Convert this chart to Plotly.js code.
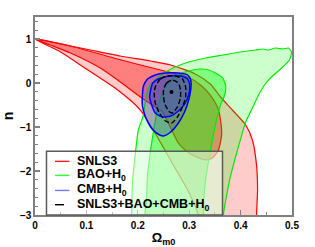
<!DOCTYPE html>
<html>
<head>
<meta charset="utf-8">
<script src="https://cdn.plot.ly/plotly-3.0.1.min.js"></script>
<style>html,body{margin:0;padding:0;background:#fff;}#chart{width:315px;height:247px;}</style>
</head>
<body>
<div id="chart"></div>
<script>
// ---- contour data (Omega_m0, n) ----
var snlsOuterX = [0.0,0.050,0.108,0.166,0.225,0.264,0.312,0.341,0.361,0.384,0.410,0.423,0.431,0.433,0.431,0.431,0.324,0.318,0.297,0.269,0.238,0.205,0.161,0.094,0.050,0.0];
var snlsOuterY = [1.0,0.886,0.750,0.614,0.500,0.409,0.205,-0.023,-0.318,-0.614,-0.955,-1.295,-1.864,-2.432,-3.0,-3.3,-3.3,-3.0,-2.432,-1.864,-1.227,-0.614,-0.159,0.364,0.705,1.0];
var snlsInnerX = [0.0,0.069,0.153,0.244,0.297,0.322,0.341,0.355,0.361,0.363,0.357,0.345,0.332,0.314,0.297,0.279,0.264,0.248,0.225,0.205,0.166,0.127,0.069,0.030,0.0];
var snlsInnerY = [1.0,0.841,0.568,0.295,0.136,-0.045,-0.273,-0.545,-0.841,-1.182,-1.523,-1.705,-1.750,-1.682,-1.568,-1.364,-1.023,-0.659,-0.477,-0.318,0.023,0.341,0.682,0.864,1.0];
var baoOuterX = [0.188,0.188,0.190,0.196,0.201,0.211,0.215,0.221,0.234,0.254,0.273,0.299,0.332,0.365,0.400,0.429,0.443,0.454,0.468,0.482,0.493,0.499,0.495,0.482,0.462,0.448,0.435,0.423,0.410,0.394,0.380,0.373,0.367,0.365,0.188];
var baoOuterY = [-3.3,-3.0,-2.205,-1.523,-1.068,-0.727,-0.386,-0.114,0.068,0.250,0.364,0.477,0.568,0.636,0.705,0.750,0.773,0.750,0.795,0.773,0.795,0.705,0.523,0.364,0.159,-0.023,-0.273,-0.568,-0.886,-1.523,-2.136,-2.545,-2.955,-3.3,-3.3];
var baoInnerX = [0.215,0.217,0.219,0.225,0.231,0.240,0.254,0.273,0.299,0.322,0.338,0.351,0.365,0.371,0.369,0.361,0.353,0.345,0.338,0.332,0.328,0.324,0.215];
var baoInnerY = [-3.3,-2.659,-2.091,-1.523,-1.068,-0.500,-0.091,0.159,0.273,0.318,0.295,0.227,0.114,-0.068,-0.273,-0.500,-0.841,-1.295,-1.750,-2.205,-2.659,-3.3,-3.3];
var cmbOuterX = [0.209,0.211,0.219,0.234,0.254,0.279,0.297,0.303,0.303,0.299,0.291,0.279,0.264,0.250,0.236,0.225,0.215,0.209,0.209];
var cmbOuterY = [-0.273,-0.068,0.091,0.182,0.227,0.227,0.182,0.068,-0.159,-0.386,-0.659,-0.909,-1.114,-1.205,-1.136,-1.000,-0.773,-0.523,-0.273];
var cmbInnerX = [0.225,0.229,0.240,0.260,0.283,0.297,0.301,0.299,0.291,0.279,0.264,0.248,0.234,0.227,0.223,0.225];
var cmbInnerY = [-0.159,0.0,0.091,0.159,0.159,0.091,-0.045,-0.273,-0.477,-0.636,-0.750,-0.773,-0.682,-0.500,-0.318,-0.159];
var jointOuterX = [0.234,0.244,0.258,0.273,0.287,0.293,0.293,0.287,0.277,0.266,0.254,0.242,0.234,0.232,0.234];
var jointOuterY = [-0.091,0.091,0.159,0.159,0.091,-0.091,-0.318,-0.545,-0.773,-0.909,-0.864,-0.682,-0.455,-0.273,-0.091];
var jointInnerX = [0.250,0.256,0.267,0.279,0.283,0.283,0.277,0.267,0.260,0.252,0.250,0.250];
var jointInnerY = [-0.159,0.0,0.068,0.0,-0.159,-0.341,-0.545,-0.682,-0.636,-0.455,-0.295,-0.159];
var bestFitX = [0.2656];
var bestFitY = [-0.205];

var legendLabels = ['SNLS3','BAO+H<sub>0</sub>','CMB+H<sub>0</sub>','SNLS3+BAO+CMB+H<sub>0</sub>'];
var xTickVals = [0,0.1,0.2,0.3,0.4,0.5];
var xTickText = ['0','0.1','0.2','0.3','0.4','0.5'];
var yTickVals = [-3,-2,-1,0,1];

function region(x, y, fill, line, width){
  return {x:x, y:y, type:'scatter', mode:'lines', fill:'toself', fillcolor:fill,
    line:{color:line, width:width||1.2, shape:'spline', smoothing:0.6},
    hoverinfo:'skip', showlegend:false};
}
function dashed(x, y){
  return {x:x, y:y, type:'scatter', mode:'lines',
    line:{color:'#000', width:1.4, dash:'5px,2.5px', shape:'spline', smoothing:0.6},
    hoverinfo:'skip', showlegend:false};
}

var traces = [
  region(snlsOuterX, snlsOuterY, 'rgba(255,0,0,0.2)', '#ff0000'),
  region(snlsInnerX, snlsInnerY, 'rgba(255,0,0,0.375)', '#ff0000'),
  region(baoOuterX, baoOuterY, 'rgba(0,255,0,0.2)', '#00ee00'),
  region(baoInnerX, baoInnerY, 'rgba(0,255,0,0.375)', '#00ee00'),
  region(cmbOuterX, cmbOuterY, 'rgba(50,40,230,0.28)', '#0000ff', 1.5),
  region(cmbInnerX, cmbInnerY, 'rgba(50,40,230,0.36)', '#0000ff', 1.5),
  dashed(jointOuterX, jointOuterY),
  dashed(jointInnerX, jointInnerY),
  {x:bestFitX, y:bestFitY, type:'scatter', mode:'markers', marker:{color:'#000', size:4}, hoverinfo:'skip', showlegend:false}
];

// manual legend (paper coordinates of the plot area)
var legColors = ['#ff2020','#30ff30','#7777ff','#000000'];
var legDash = ['solid','solid','solid','dash'];
var legRows = [0.271, 0.200, 0.124, 0.052];
var shapes = [{type:'rect', xref:'paper', yref:'paper', x0:0.0447, x1:0.7296, y0:0.0, y1:0.322,
  fillcolor:'rgba(255,255,255,0.5)', line:{color:'#5a5a5a', width:1.5}, layer:'above'}];
var annotations = [];
for (var i=0;i<legendLabels.length;i++){
  shapes.push({type:'line', xref:'paper', yref:'paper', x0:0.078, x1:0.134, y0:legRows[i], y1:legRows[i],
    line:{color:legColors[i], width:1.4, dash:legDash[i]}, layer:'above'});
  annotations.push({xref:'paper', yref:'paper', x:0.155, y:legRows[i], xanchor:'left', yanchor:'middle',
    text:'<b>'+legendLabels[i]+'</b>', showarrow:false,
    font:{family:'Liberation Sans, Arial, sans-serif', size:12.5, color:'#000'}});
}

var axisCommon = {showline:true, mirror:true, linecolor:'#808080', linewidth:1.6,
  ticks:'inside', ticklen:5, tickwidth:1.2, tickcolor:'#808080', showgrid:false, zeroline:false,
  tickfont:{family:'Liberation Sans, Arial, sans-serif', size:10, weight:'bold', color:'#000'}};

var layout = {
  width:315, height:247, margin:{l:35, r:23, t:17, b:32},
  paper_bgcolor:'#fff', plot_bgcolor:'#fff', showlegend:false,
  xaxis: Object.assign({}, axisCommon, {range:[0,0.5], tickvals:xTickVals, ticktext:xTickText,
    minor:{dtick:0.05, ticks:'inside', ticklen:3, tickcolor:'#808080', tickwidth:1},
    title:{text:'<b>Ω<sub>m0</sub></b>', standoff:5, font:{family:'Liberation Sans, Arial, sans-serif', size:13, color:'#000'}}}),
  yaxis: Object.assign({}, axisCommon, {range:[-3,1.5], tickvals:yTickVals,
    minor:{dtick:0.2, ticks:'inside', ticklen:3, tickcolor:'#808080', tickwidth:1},
    title:{text:'<b>n</b>', standoff:6, font:{family:'Liberation Sans, Arial, sans-serif', size:14, color:'#000'}}}),
  shapes: shapes, annotations: annotations
};

Plotly.newPlot('chart', traces, layout, {displayModeBar:false, staticPlot:true});
</script>
</body>
</html>
